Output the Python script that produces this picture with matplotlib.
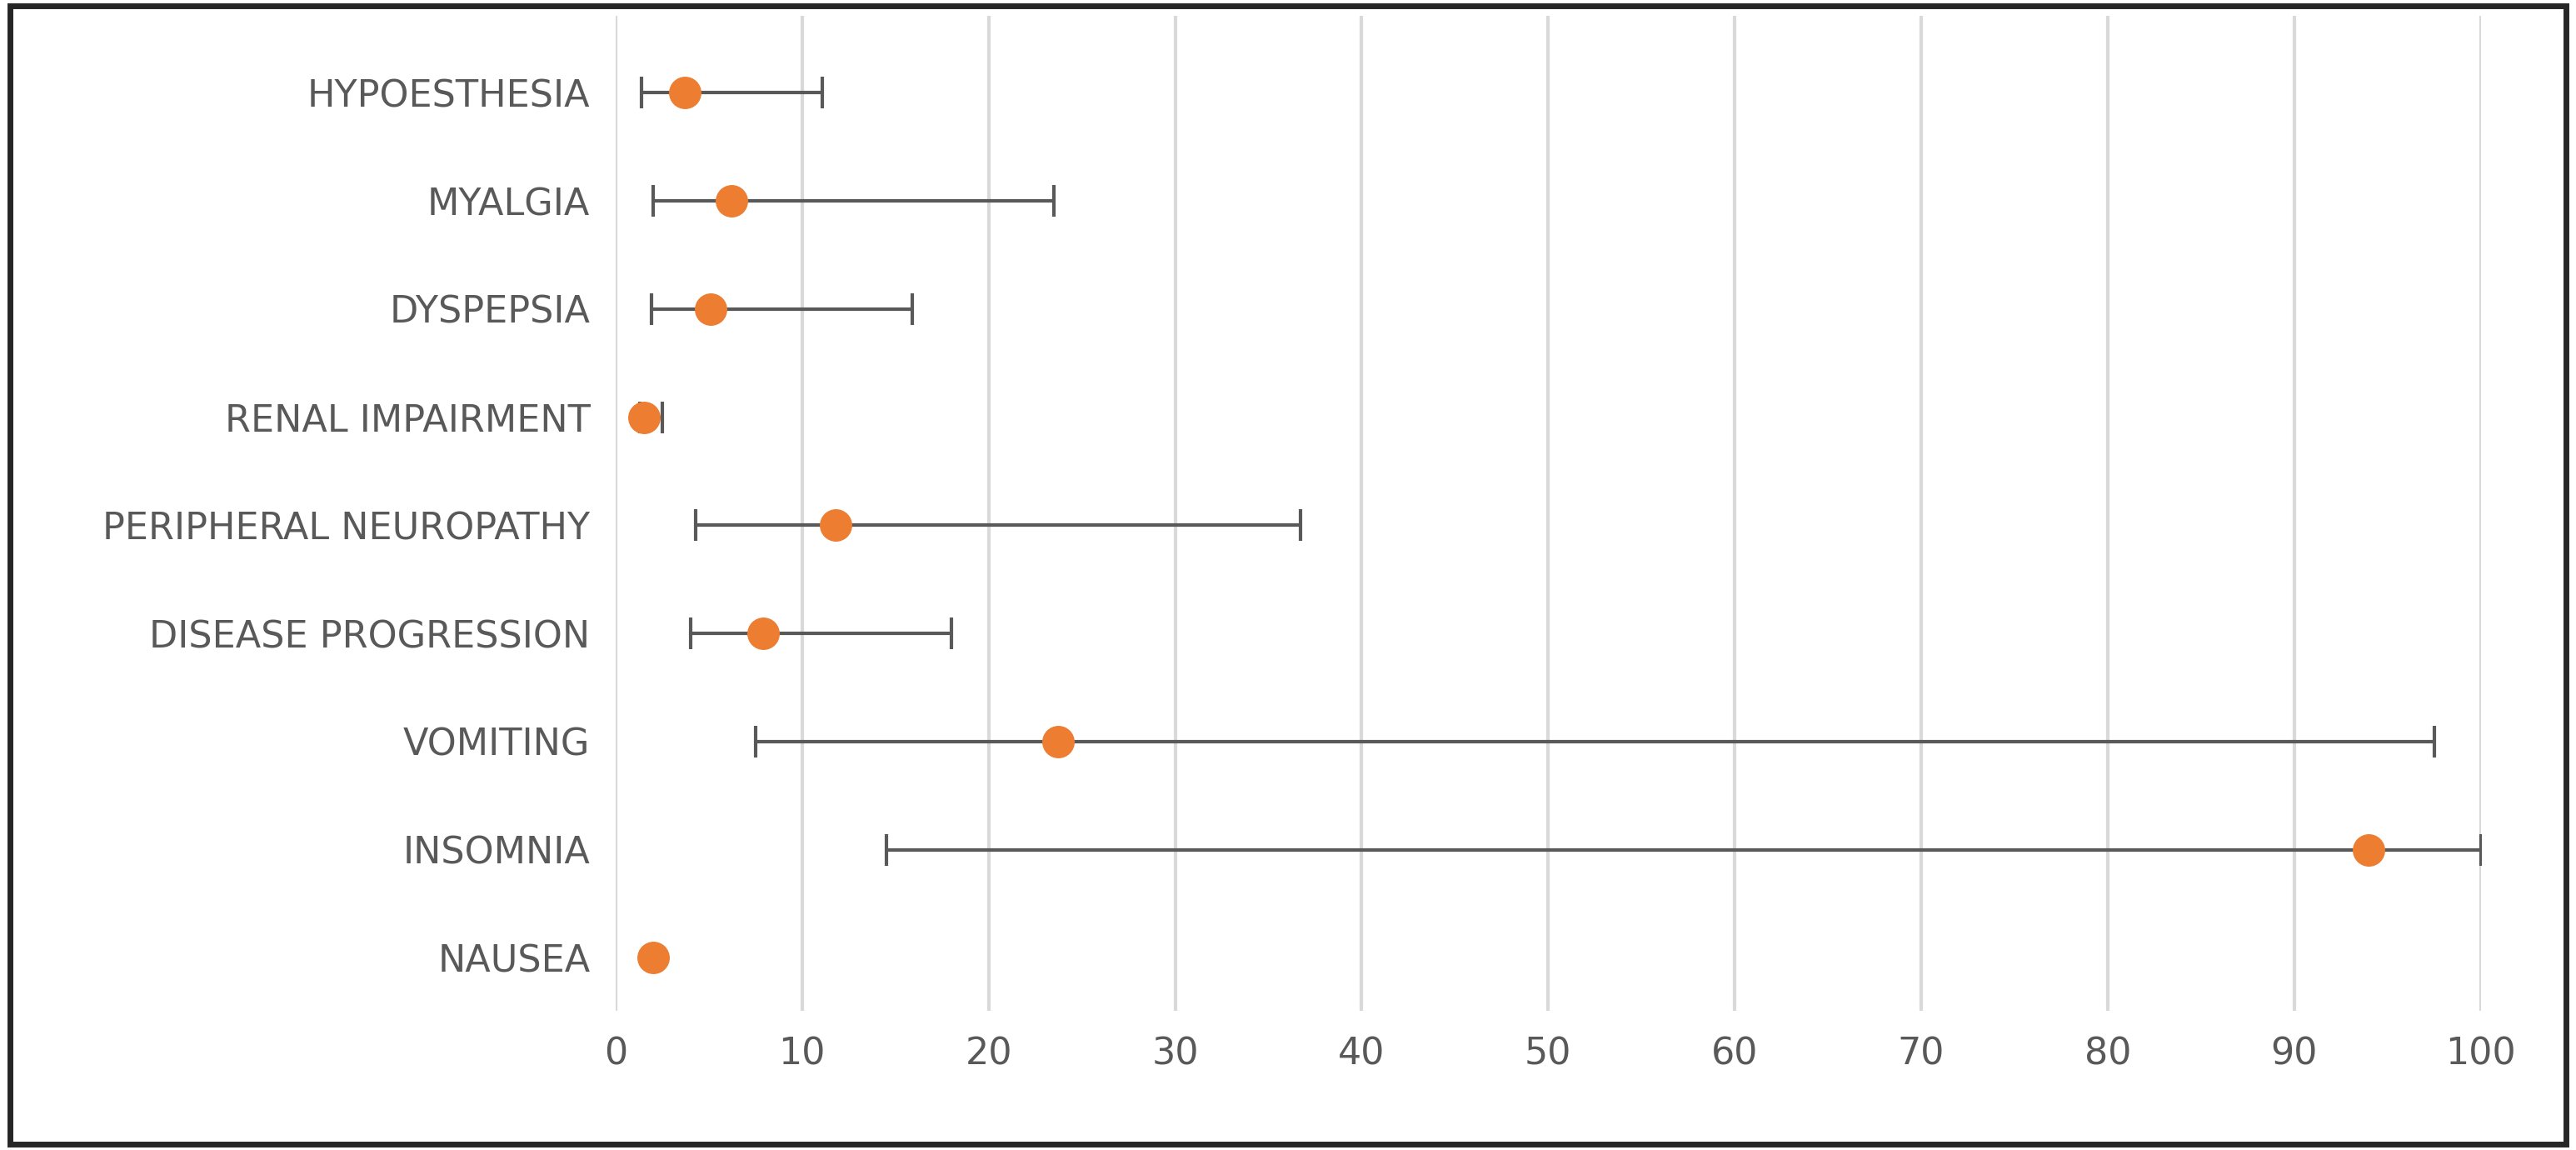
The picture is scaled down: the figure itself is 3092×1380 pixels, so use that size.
import matplotlib
matplotlib.use("Agg")
import matplotlib.pyplot as plt
from matplotlib.patches import Rectangle

# Rows from bottom to top
labels = ["NAUSEA", "INSOMNIA", "VOMITING", "DISEASE PROGRESSION",
          "PERIPHERAL NEUROPATHY", "RENAL IMPAIRMENT", "DYSPEPSIA",
          "MYALGIA", "HYPOESTHESIA"]
estimate = [2.0, 94.0, 23.7, 7.9, 11.8, 1.5, 5.1, 6.2, 3.7]
lower = [2.0, 14.5, 7.5, 4.0, 4.3, 1.3, 1.9, 2.0, 1.4]
upper = [2.0, 100.0, 97.5, 18.0, 36.7, 2.5, 15.9, 23.5, 11.1]

fig = plt.figure(figsize=(30.92, 13.8), dpi=100)
ax = fig.add_axes([0.239, 0.121, 0.724, 0.865])

ypos = list(range(len(labels)))
err_lo = [e - l for e, l in zip(estimate, lower)]
err_hi = [u - e for e, u in zip(estimate, upper)]
has_err = [u > l for l, u in zip(lower, upper)]

for i in ypos:
    if has_err[i]:
        ax.errorbar(estimate[i], i, xerr=[[err_lo[i]], [err_hi[i]]], fmt="none",
                    ecolor="#595959", elinewidth=3, capsize=14, capthick=3, zorder=2)
ax.plot(estimate, ypos, "o", color="#ED7D31", markersize=27, zorder=3, linestyle="none")

ax.set_xlim(0, 100)
ax.set_ylim(-0.49, 8.71)
ax.set_xticks(range(0, 101, 10))
ax.set_yticks(ypos)
ax.set_yticklabels(labels)
ax.grid(axis="x", color="#D9D9D9", linewidth=3)
ax.set_axisbelow(True)
for s in ax.spines.values():
    s.set_visible(False)
ax.tick_params(length=0, labelsize=32, labelcolor="#595959", pad=22)

fig.patches.append(Rectangle((0.004, 0.005), 0.992, 0.99, transform=fig.transFigure,
                             fill=False, edgecolor="#262626", linewidth=5))

fig.savefig("out.png", dpi=100)
